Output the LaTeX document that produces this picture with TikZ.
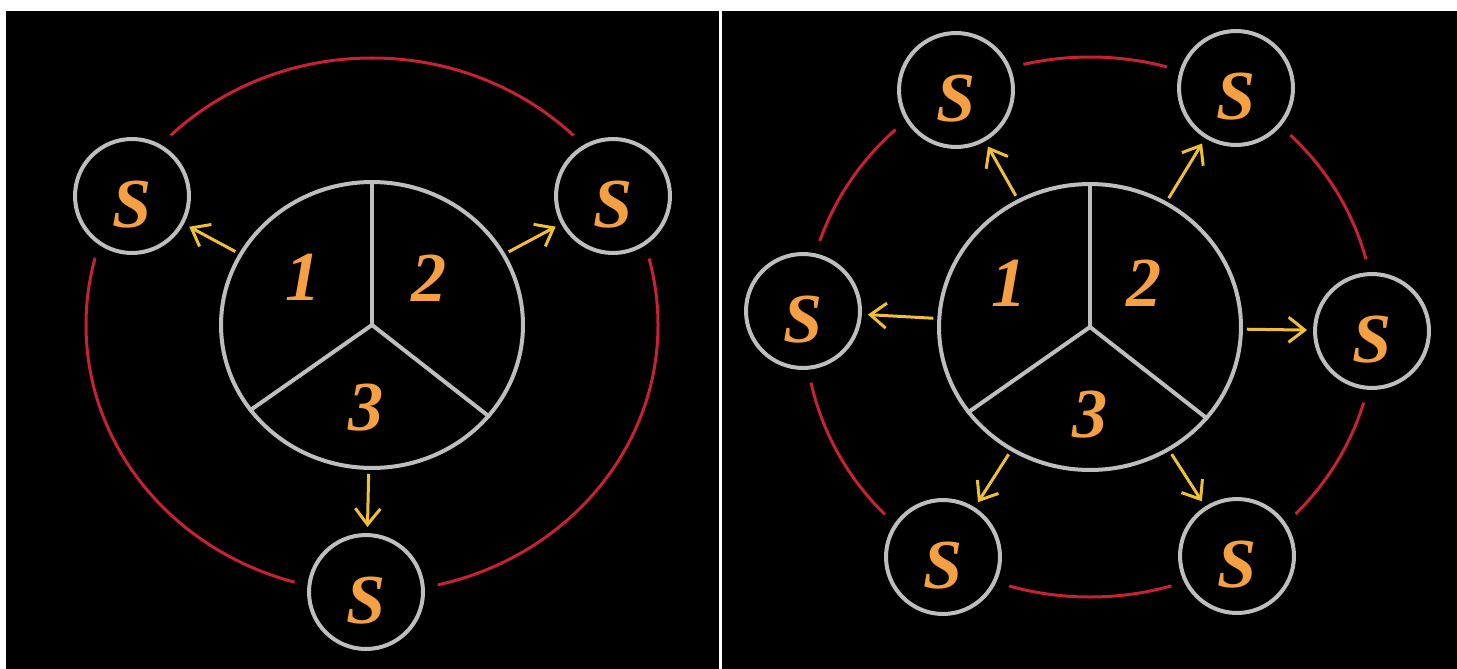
\documentclass[tikz,border=0pt]{standalone}
\usepackage{fontspec}
\setmainfont{Liberation Serif}
\usetikzlibrary{arrows.meta,shapes.geometric}
\definecolor{ringred}{RGB}{200,32,52}
\definecolor{rimgray}{RGB}{190,190,190}
\definecolor{tagorange}{RGB}{245,160,66}
\definecolor{arrowgold}{RGB}{240,192,52}

\begin{document}
\begin{tikzpicture}[
        x=0.02cm, y=-0.02cm,
        hub/.style={ellipse, draw=rimgray, line width=0.08cm, minimum width=6.04cm, minimum height=5.72cm, inner sep=0pt},
        spoke/.style={draw=rimgray, line width=0.08cm},
        site/.style={circle, draw=rimgray, line width=0.08cm, fill=black, minimum size=2.28cm, inner sep=0pt,
            preaction={draw=black, line width=0.6cm},
            text=tagorange, font=\fontsize{40}{40}\selectfont\bfseries\itshape, text height=1.26cm, text depth=0pt},
        num/.style={text=tagorange, font=\fontsize{40}{40}\selectfont\bfseries\itshape, inner sep=0pt},
        ring/.style={draw=ringred, line width=0.06cm},
        arrow/.style={-{Straight Barb[length=0.32cm, width=0.5cm]}, draw=arrowgold, line width=0.06cm, shorten <=0.08cm, shorten >=0.12cm},
    ]
        % Background panels
        \useasboundingbox (0,0) rectangle (1457,669);
        \fill[white] (0,0) rectangle (1457,669);
        \fill[black] (6,11) rectangle (719,669);
        \fill[black] (722,11) rectangle (1457,669);

        % Left: three-sector hub
        \node[hub] (lhub) at (372,325) {};
        \draw[ring] (lhub.center) ellipse [x radius=286, y radius=267];
        \foreach \a in {90, 215, 322}
            \draw[spoke] (lhub.center) -- (lhub.\a);
        \node[num] (l1) at (303,277) {1};
        \node[num] (l2) at (429,278) {2};
        \node[num] (l3) at (366,408) {3};

        % Left: sites
        \node[site] (ls1) at (132,196) {S};
        \node[site] (ls2) at (613,196) {S};
        \node[site] (ls3) at (366,592) {S};

        \foreach \s in {ls1, ls2, ls3}
            \draw[arrow] (lhub) -- (\s);

        % Right: three-sector hub
        \node[hub] (rhub) at (1090,327) {};
        \draw[ring] (rhub.center) ellipse [x radius=285, y radius=270];
        \foreach \a in {90, 215, 322}
            \draw[spoke] (rhub.center) -- (rhub.\a);
        \node[num] (r1) at (1009,283) {1};
        \node[num] (r2) at (1144,283) {2};
        \node[num] (r3) at (1090,415) {3};

        % Right: six sites
        \node[site] (rs1) at (956,90) {S};
        \node[site] (rs2) at (1236,88) {S};
        \node[site] (rs3) at (803,311) {S};
        \node[site] (rs4) at (1372,331) {S};
        \node[site] (rs5) at (943,557) {S};
        \node[site] (rs6) at (1237,556) {S};

        \foreach \s in {rs1, rs2, rs3, rs4, rs5, rs6}
            \draw[arrow] (rhub) -- (\s);
    \end{tikzpicture}
\end{document}
